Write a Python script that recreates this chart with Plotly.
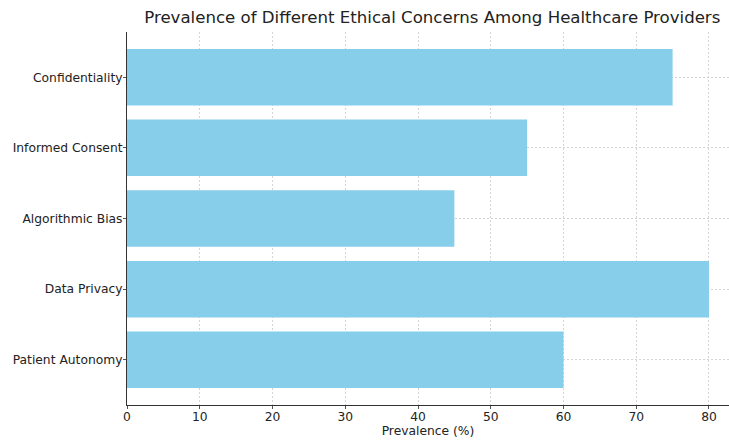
import plotly.graph_objects as go

# Survey categories (bottom to top) and their prevalence in percent
concerns = ["Patient Autonomy", "Data Privacy", "Algorithmic Bias", "Informed Consent", "Confidentiality"]
prevalence = [60, 80, 45, 55, 75]
x_ticks = [0, 10, 20, 30, 40, 50, 60, 70, 80]

font_family = "DejaVu Sans"
tick_size = 12.3

fig = go.Figure(
    go.Bar(
        x=prevalence,
        y=concerns,
        orientation="h",
        width=0.8,
        marker=dict(color="#87CEEB", line=dict(width=0)),
    )
)

fig.update_layout(
    width=729,
    height=440,
    margin=dict(l=127, r=0, t=32, b=35),
    paper_bgcolor="white",
    plot_bgcolor="white",
    font=dict(family=font_family, size=12, color="#222222"),
    title=dict(
        text="Prevalence of Different Ethical Concerns Among Healthcare Providers",
        x=0.593,
        xanchor="center",
        y=0.975,
        yanchor="top",
        font=dict(family=font_family, size=16.6, color="#222222"),
    ),
    showlegend=False,
    bargap=0.2,
)

grid_style = dict(
    showgrid=True,
    gridcolor="#d4d4d4",
    griddash="2px,2px",
    gridwidth=1,
    zeroline=False,
)

fig.update_xaxes(
    range=[0, 82.75],
    tickvals=x_ticks,
    ticks="outside",
    ticklen=3,
    tickcolor="#555555",
    tickfont=dict(size=tick_size),
    ticklabelstandoff=-3,
    showline=True,
    linecolor="#333333",
    linewidth=1,
    title=dict(text="Prevalence (%)", font=dict(size=tick_size), standoff=2),
    **grid_style,
)

fig.update_yaxes(
    type="category",
    categoryorder="array",
    categoryarray=concerns,
    range=[-0.64, 4.64],
    ticks="outside",
    ticklen=3,
    tickcolor="#555555",
    tickfont=dict(size=tick_size),
    ticklabelstandoff=-2,
    showline=True,
    linecolor="#333333",
    linewidth=1,
    **grid_style,
)

fig.write_html("out.html")
